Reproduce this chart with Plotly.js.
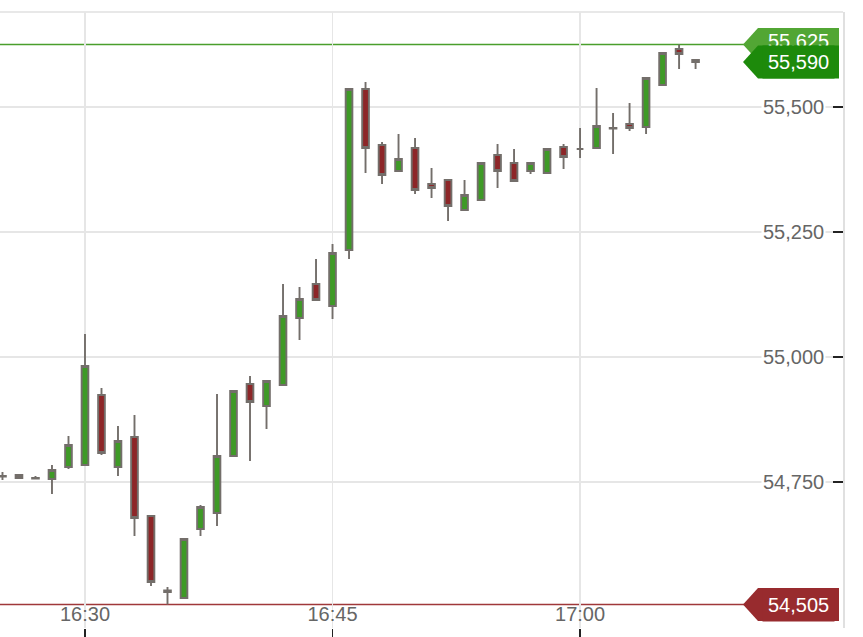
<!DOCTYPE html>
<html>
<head>
<meta charset="utf-8">
<script src="https://cdn.plot.ly/plotly-3.0.1.min.js"></script>
<style>html,body{margin:0;padding:0;background:#fff;}#chart{width:863px;height:637px;}</style>
</head>
<body>
<div id="chart"></div>
<script>
var day = '2024-01-02 ';
var times = ['16:25','16:26','16:27','16:28','16:29','16:30','16:31','16:32','16:33','16:34',
  '16:35','16:36','16:37','16:38','16:39','16:40','16:41','16:42','16:43','16:44',
  '16:45','16:46','16:47','16:48','16:49','16:50','16:51','16:52','16:53','16:54',
  '16:55','16:56','16:57','16:58','16:59','17:00','17:01','17:02','17:03','17:04',
  '17:05','17:06','17:07'];
var openVals = [54762,54764,54757,54756,54780,54784,54924,54780,54840,54682,
  54533,54518,54656,54688,54802,54946,54902,54944,55078,55146,
  55102,55214,55536,55424,55372,55418,55346,55354,55294,55314,
  55404,55388,55372,55368,55420,55416,55418,55458,55466,55460,
  55544,55616,55594];
var highVals = [54770,54764,54762,54784,54842,55046,54938,54862,54884,54684,
  54540,54636,54704,54926,54934,54962,54952,55146,55140,55196,
  55226,55536,55550,55430,55446,55438,55378,55354,55354,55388,
  55426,55416,55388,55416,55426,55458,55538,55488,55508,55558,
  55608,55625,55594];
var lowVals = [54754,54758,54756,54726,54776,54782,54804,54762,54642,54542,
  54505,54516,54642,54662,54800,54792,54856,54942,55034,55114,
  55076,55196,55368,55346,55372,55326,55318,55272,55294,55314,
  55338,55352,55366,55368,55376,55398,55418,55406,55452,55446,
  55544,55576,55576];
var closeVals = [54761,54758,54758,54774,54824,54982,54808,54832,54678,54550,
  54530,54636,54700,54802,54932,54910,54952,55082,55116,55114,
  55208,55536,55418,55364,55396,55334,55338,55302,55324,55388,
  55372,55352,55388,55416,55400,55416,55462,55457,55458,55558,
  55608,55606,55590];

var yTickVals = [54750, 55000, 55250, 55500];
var yTickText = ['54,750', '55,000', '55,250', '55,500'];
var xTickTimes = ['16:30', '16:45', '17:00'];

var levelVals = [55625, 55590, 54505];
var levelText = ['55,625', '55,590', '54,505'];
var levelLineColors = ['#4a9e2c', null, '#a0383a'];
var levelFlagColors = ['#52a634', '#1d8a0b', '#982b2e'];

var xs = times.map(function(t){ return day + t; });

var trace = {
  type: 'candlestick',
  x: xs, open: openVals, high: highVals, low: lowVals, close: closeVals,
  increasing: {line: {color: '#736e6a', width: 1.9}, fillcolor: '#3e9a26'},
  decreasing: {line: {color: '#736e6a', width: 1.9}, fillcolor: '#8d2628'},
  whiskerwidth: 0,
  hoverinfo: 'none',
  showlegend: false
};

var W = 843; // plot width in px
function px(p){ return p / W; }
var unitsPerPx = 2;
var fontFam = 'Liberation Sans, Arial, sans-serif';

var shapes = [];
var annotations = [];

// frame top
shapes.push({type:'line', xref:'paper', yref:'paper', x0:0, x1:1, y0:1, y1:1, line:{color:'#e0e0e0', width:1.5}, layer:'below'});

// level lines
for (var i = 0; i < levelVals.length; i++) {
  if (levelLineColors[i]) {
    shapes.push({type:'line', xref:'paper', yref:'y', x0:0, x1:px(745), y0:levelVals[i], y1:levelVals[i],
      line:{color:levelLineColors[i], width:1.6}, layer:'between'});
  }
}

// y tick labels with white background
for (var k = 0; k < yTickVals.length; k++) {
  annotations.push({xref:'paper', yref:'y', x: 1, y: yTickVals[k], xshift: -17, text: yTickText[k], showarrow:false,
    xanchor:'right', yanchor:'middle', bgcolor:'#ffffff', borderpad:1,
    font:{family:fontFam, size:20, color:'#666666'}});
}

// flags: full pointed shape, plus a coloured annotation box so later flags cover earlier flag texts
for (var j = 0; j < levelVals.length; j++) {
  var v = levelVals[j];
  var h = 16.5 * unitsPerPx;
  var path = 'M ' + px(743) + ' ' + v +
    ' L ' + px(758) + ' ' + (v + h) +
    ' L ' + px(839) + ' ' + (v + h) +
    ' L ' + px(839) + ' ' + (v - h) +
    ' L ' + px(758) + ' ' + (v - h) + ' Z';
  shapes.push({type:'path', xref:'paper', yref:'y', path: path, fillcolor: levelFlagColors[j],
    line:{width:0}, layer:'above'});
  annotations.push({xref:'paper', yref:'y', x: px(798), y: v, yshift: (j === 0 ? 4 : 0),
    text: levelText[j], showarrow:false,
    xanchor:'center', yanchor:'middle', borderpad: (j === 0 ? 1 : 5),
    bgcolor: (j === 0 ? 'rgba(0,0,0,0)' : levelFlagColors[j]),
    font:{family:fontFam, size:20, color:'#ffffff'}});
}

var layout = {
  width: 863, height: 637,
  margin: {l: 0, r: 20, t: 12, b: 9, pad: 0},
  paper_bgcolor: '#ffffff', plot_bgcolor: '#ffffff',
  boxgap: 0.42,
  xaxis: {
    type: 'date',
    range: [day + '16:24:51', day + '17:15:56'],
    rangeslider: {visible: false},
    tickvals: xTickTimes.map(function(t){ return day + t; }),
    ticktext: xTickTimes,
    ticklabelposition: 'inside',
    ticks: 'outside', ticklen: 9, tickwidth: 1.5, tickcolor: '#222222',
    showgrid: true, gridcolor: '#e6e6e6', gridwidth: 1.2,
    showline: false, zeroline: false,
    tickfont: {family: fontFam, size: 20, color: '#666666'}
  },
  yaxis: {
    side: 'right',
    range: [54458, 55690],
    tickvals: yTickVals,
    showticklabels: false,
    ticks: 'inside', ticklen: 10, tickwidth: 1.5, tickcolor: '#222222',
    showgrid: true, gridcolor: '#e6e6e6', gridwidth: 1.2,
    showline: true, linecolor: '#e0e0e0', linewidth: 1.5,
    zeroline: false
  },
  shapes: shapes,
  annotations: annotations,
  hovermode: false
};

Plotly.newPlot('chart', [trace], layout, {displayModeBar: false, staticPlot: true});
</script>
</body>
</html>
